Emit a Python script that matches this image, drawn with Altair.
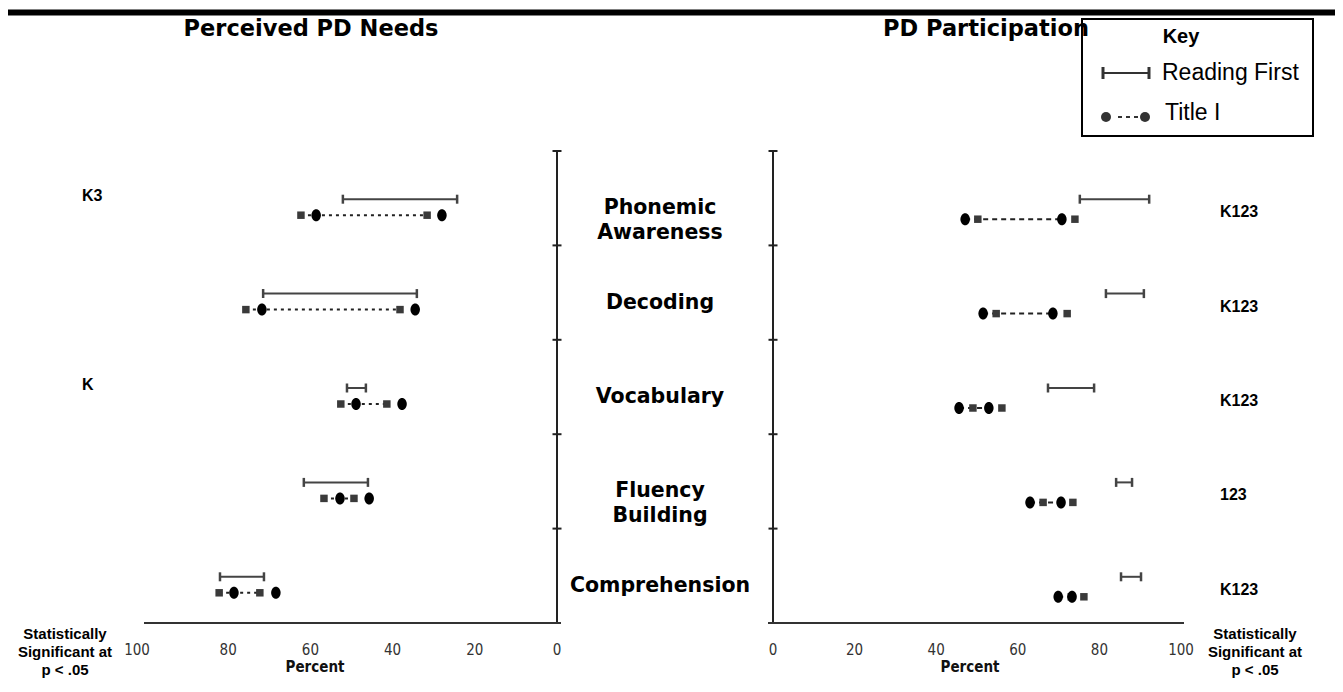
import altair as alt
import pandas as pd

W, H = 1327, 615

# ---------------- data ----------------
categories = ["Phonemic Awareness", "Decoding", "Vocabulary", "Fluency Building", "Comprehension"]
category_labels = ["Phonemic\nAwareness", "Decoding", "Vocabulary", "Fluency\nBuilding", "Comprehension"]
panel_titles = ["Perceived PD Needs", "PD Participation"]
x_ticks = [0, 20, 40, 60, 80, 100]
x_title = "Percent"
sig_note = "Statistically\nSignificant at\np < .05"
key_title = "Key"
key_labels = ["Reading First", "Title I"]

# Perceived PD Needs (left panel, percent)
needs_rf_low = [24.3, 34.1, 46.5, 46.0, 71.3]
needs_rf_high = [52.1, 71.5, 51.1, 61.6, 82.0]
needs_ti_circle_1 = [58.6, 71.8, 48.9, 52.8, 78.6]
needs_ti_circle_2 = [28.0, 34.5, 37.7, 45.7, 68.4]
needs_ti_square_1 = [62.3, 75.7, 52.6, 56.7, 82.2]
needs_ti_square_2 = [31.6, 38.2, 41.4, 49.4, 72.3]
needs_significant = ["K3", "", "K", "", ""]

# PD Participation (right panel, percent)
part_rf_low = [75.2, 81.6, 67.4, 84.1, 85.3]
part_rf_high = [92.2, 90.9, 78.7, 88.0, 90.2]
part_ti_circle_1 = [47.1, 51.5, 45.6, 63.0, 69.9]
part_ti_circle_2 = [70.8, 68.6, 52.9, 70.6, 73.3]
part_ti_square_1 = [50.2, 54.7, 49.0, 66.2, 73.1]
part_ti_square_2 = [74.0, 72.1, 56.1, 73.5, 76.2]
part_significant = ["K123", "K123", "K123", "123", "K123"]

needs = pd.DataFrame({
    "category": categories, "sig": needs_significant,
    "rf_low": needs_rf_low, "rf_high": needs_rf_high,
    "c1": needs_ti_circle_1, "c2": needs_ti_circle_2,
    "s1": needs_ti_square_1, "s2": needs_ti_square_2,
})
part = pd.DataFrame({
    "category": categories, "sig": part_significant,
    "rf_low": part_rf_low, "rf_high": part_rf_high,
    "c1": part_ti_circle_1, "c2": part_ti_circle_2,
    "s1": part_ti_square_1, "s2": part_ti_square_2,
})
labels_df = pd.DataFrame({"category": categories, "label": category_labels})
ticks_df = pd.DataFrame({"tick": x_ticks})
extent_df = pd.DataFrame({"lo": [x_ticks[0]], "hi": [x_ticks[-1]]})
one = pd.DataFrame({"zero": [0]})

ELLIPSE = "M-0.79,0A0.79,1,0,1,0,0.79,0A0.79,1,0,1,0,-0.79,0Z"

ys = alt.Scale(type="band", domain=categories, range=[143, H], paddingInner=0, paddingOuter=0)


def Y(**kw):
    return alt.Y("category:N", scale=ys, axis=None, **kw)


def panel(df, xs, ti_offset, line_fields, dash, sig_x, sig_offset, title_x, dom_off, end_dx):
    def X(f):
        return alt.X(f"{f}:Q", scale=xs, axis=None)

    base = alt.Chart(df)
    label_style = dict(font="DejaVu Sans Condensed", fontSize=15, color="#333", baseline="middle")
    # axes drawn through the panel's scale
    vline = alt.Chart(one).mark_rule(color="#222", strokeWidth=2).encode(
        x=X("zero"), y=alt.value(143), y2=alt.value(H))
    hline = alt.Chart(extent_df).mark_rule(
        color="#333", strokeWidth=2, xOffset=dom_off[0], x2Offset=dom_off[1]
    ).encode(x=X("lo"), x2="hi:Q", y=alt.value(H))
    tick_labels = alt.Chart(ticks_df).transform_filter(
        f"datum.tick < {x_ticks[-1]}"
    ).mark_text(**label_style).encode(x=X("tick"), y=alt.value(642), text="tick:Q")
    end_label = alt.Chart(ticks_df).transform_filter(
        f"datum.tick == {x_ticks[-1]}"
    ).mark_text(dx=end_dx, **label_style).encode(x=X("tick"), y=alt.value(642), text="tick:Q")
    xtitle = alt.Chart(one).mark_text(
        font="DejaVu Sans Condensed", fontSize=15, fontWeight="bold", color="#111",
        baseline="middle"
    ).encode(x=alt.value(title_x), y=alt.value(659), text=alt.value(x_title))
    ticks = base.transform_calculate(zero="0").mark_rule(
        color="#222", strokeWidth=2, xOffset=-4.5, x2Offset=4.5
    ).encode(x=X("zero"), x2="zero:Q", y=Y(bandPosition=0))
    rf = base.mark_rule(color="#444", strokeWidth=2, yOffset=1).encode(
        x=X("rf_low"), x2="rf_high:Q", y=Y())
    caps = base.transform_fold(["rf_low", "rf_high"], as_=["end", "value"]).mark_tick(
        color="#444", size=9, thickness=2.5, yOffset=1, opacity=1
    ).encode(x=X("value"), y=Y())
    line = base.mark_rule(color="#222", strokeWidth=2, strokeDash=dash, yOffset=ti_offset).encode(
        x=X(line_fields[0]), x2=f"{line_fields[1]}:Q", y=Y())
    squares = base.transform_fold(["s1", "s2"], as_=["which", "value"]).mark_square(
        size=56, color="#3a3a3a", opacity=1, yOffset=ti_offset
    ).encode(x=X("value"), y=Y())
    circles = base.transform_fold(["c1", "c2"], as_=["which", "value"]).mark_point(
        shape=ELLIPSE, size=144, filled=True, color="black", opacity=1, yOffset=ti_offset
    ).encode(x=X("value"), y=Y())
    sig = base.mark_text(
        align="left", baseline="middle", font="Liberation Sans", fontWeight="bold",
        fontSize=16, color="black", yOffset=sig_offset
    ).encode(x=alt.value(sig_x), y=Y(), text="sig:N")
    return alt.layer(vline, hline, tick_labels, end_label, xtitle, ticks, rf, caps, line,
                     squares, circles, sig)


left = panel(needs, alt.Scale(domain=[0, 100], range=[549, 138]), 17, ("s1", "s2"), [3, 4],
             74, -2, 307, (4, -2), -9)
right = panel(part, alt.Scale(domain=[0, 100], range=[765, 1173]), 21, ("c1", "c2"), [5, 4],
              1212, 14, 962, (-5, 3), 0)

topbar = alt.Chart(one).mark_rule(color="black", strokeWidth=6).encode(
    x=alt.value(0), x2=alt.value(W), y=alt.value(4.5))

title_font = dict(font="DejaVu Sans", fontWeight="bold", fontSize=22.5, color="black",
                  align="center", baseline="middle")
title_l = alt.Chart(one).mark_text(**title_font).encode(
    x=alt.value(303), y=alt.value(21), text=alt.value(panel_titles[0]))
title_r = alt.Chart(one).mark_text(**title_font).encode(
    x=alt.value(978), y=alt.value(21), text=alt.value(panel_titles[1]))

cat_text = alt.Chart(labels_df).mark_text(
    font="DejaVu Sans", fontWeight="bold", fontSize=20.5, color="black",
    align="center", baseline="top", lineBreak="\n", lineHeight=25
).encode(x=alt.value(652), y=Y(), text="label:N")

note_style = dict(font="Liberation Sans", fontWeight="bold", fontSize=15, color="black",
                  align="center", baseline="top", lineBreak="\n", lineHeight=18)
note_l = alt.Chart(one).mark_text(**note_style).encode(
    x=alt.value(57), y=alt.value(619), text=alt.value(sig_note))
note_r = alt.Chart(one).mark_text(**note_style).encode(
    x=alt.value(1247), y=alt.value(619), text=alt.value(sig_note))

# ---- key box ----
key_box = alt.Chart(one).mark_rect(fillOpacity=0, stroke="black", strokeWidth=2).encode(
    x=alt.value(1074), x2=alt.value(1305), y=alt.value(11), y2=alt.value(128))
key_t = alt.Chart(one).mark_text(font="Liberation Sans", fontWeight="bold", fontSize=20,
                                 align="center", baseline="middle", color="black").encode(
    x=alt.value(1173), y=alt.value(29), text=alt.value(key_title))
key_bar = alt.Chart(one).mark_rule(color="#333", strokeWidth=2).encode(
    x=alt.value(1095), x2=alt.value(1141), y=alt.value(65))
key_cap1 = alt.Chart(one).mark_rule(color="#333", strokeWidth=3).encode(
    x=alt.value(1095), y=alt.value(59), y2=alt.value(71))
key_cap2 = alt.Chart(one).mark_rule(color="#333", strokeWidth=3).encode(
    x=alt.value(1141), y=alt.value(59), y2=alt.value(71))
key_l1 = alt.Chart(one).mark_text(font="Liberation Sans", fontSize=23, align="left",
                                  baseline="middle", color="black").encode(
    x=alt.value(1154), y=alt.value(65), text=alt.value(key_labels[0]))
key_dash = alt.Chart(one).mark_rule(color="#333", strokeWidth=2, strokeDash=[4, 4]).encode(
    x=alt.value(1110), x2=alt.value(1130), y=alt.value(109))
key_c1 = alt.Chart(one).mark_circle(size=100, color="#333", opacity=1).encode(
    x=alt.value(1098), y=alt.value(109))
key_c2 = alt.Chart(one).mark_circle(size=100, color="#333", opacity=1).encode(
    x=alt.value(1137), y=alt.value(109))
key_l2 = alt.Chart(one).mark_text(font="Liberation Sans", fontSize=23, align="left",
                                  baseline="middle", color="black").encode(
    x=alt.value(1157), y=alt.value(105), text=alt.value(key_labels[1]))

chart = alt.layer(
    topbar, title_l, title_r, cat_text, note_l, note_r,
    left, right,
    key_box, key_t, key_bar, key_cap1, key_cap2, key_l1, key_dash, key_c1, key_c2, key_l2,
).resolve_scale(x="independent").properties(
    width=W, height=H, autosize="none",
    padding={"left": 0, "top": 0, "right": 0, "bottom": 59},
).configure_view(stroke=None)

chart.save("out.html", embed_options={"renderer": "svg", "actions": False})
